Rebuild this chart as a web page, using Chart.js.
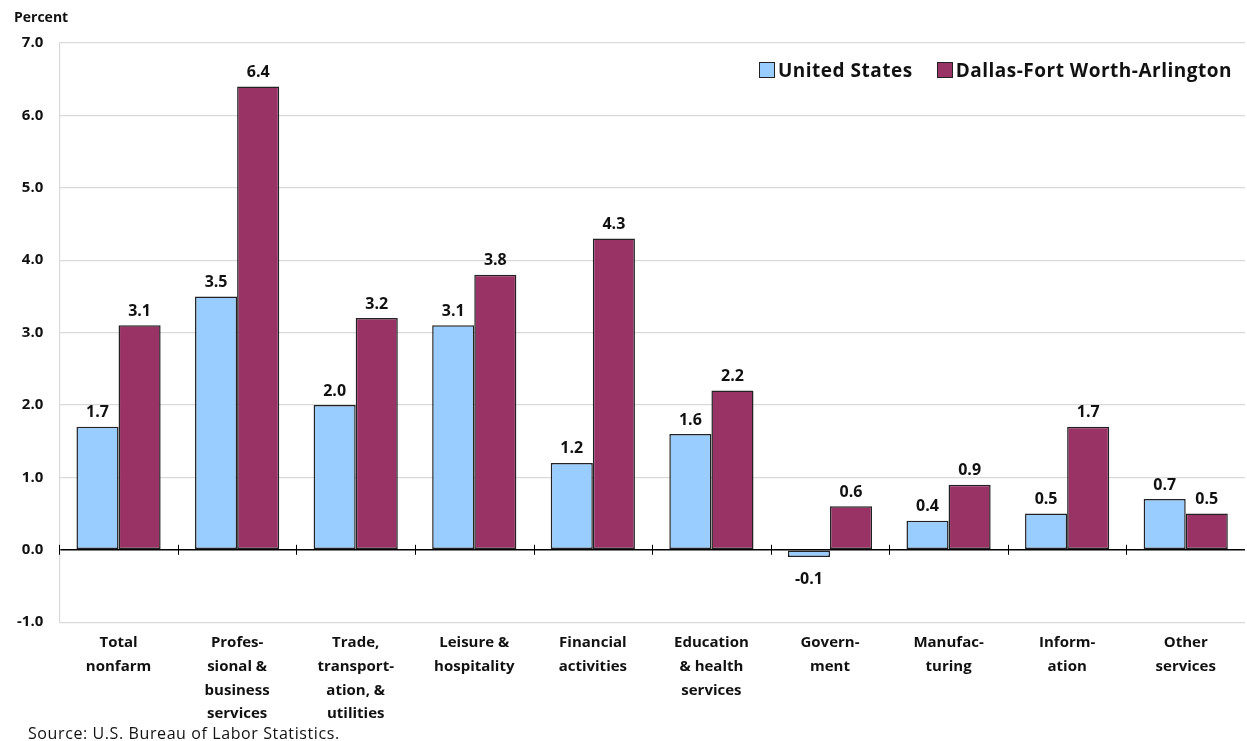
<!DOCTYPE html>
<html>
<head>
<meta charset="utf-8">
<script src="https://cdn.jsdelivr.net/npm/chart.js@4.4.1/dist/chart.umd.min.js"></script>
<style>
  body { margin: 0; background: #fff; }
  #wrap { position: relative; width: 1247px; height: 741px; }
  #legend {
    position: absolute; top: 57px; right: 15px;
    font: bold 19px "Open Sans", sans-serif; color: #111;
    display: flex; gap: 24px; letter-spacing: 0.5px;
  }
  #legend span.box {
    display: inline-block; width: 14px; height: 14px;
    border: 1.5px solid #222; margin-right: 3px; vertical-align: -1px;
  }
  #percent {
    position: absolute; left: 14px; top: 7px;
    font: bold 14px "Open Sans", sans-serif; color: #111;
  }
  #source {
    position: absolute; left: 28px; top: 722px;
    font: 16px "Open Sans", sans-serif; color: #111; letter-spacing: 0.6px;
  }
</style>
</head>
<body>
<div id="wrap">
  <canvas id="chart"></canvas>
  <div id="percent">Percent</div>
  <div id="legend">
    <div><span class="box" style="background:#99ccff"></span>United States</div>
    <div><span class="box" style="background:#993366"></span>Dallas-Fort Worth-Arlington</div>
  </div>
  <div id="source">Source: U.S. Bureau of Labor Statistics.</div>
</div>
<script>
const categories = [
  ["Total", "nonfarm"],
  ["Profes-", "sional &", "business", "services"],
  ["Trade,", "transport-", "ation, &", "utilities"],
  ["Leisure &", "hospitality"],
  ["Financial", "activities"],
  ["Education", "& health", "services"],
  ["Govern-", "ment"],
  ["Manufac-", "turing"],
  ["Inform-", "ation"],
  ["Other", "services"]
];
const usValues = [1.7, 3.5, 2.0, 3.1, 1.2, 1.6, -0.1, 0.4, 0.5, 0.7];
const dfwValues = [3.1, 6.4, 3.2, 3.8, 4.3, 2.2, 0.6, 0.9, 1.7, 0.5];
const seriesNames = ["United States", "Dallas-Fort Worth-Arlington"];

const FONT = '"Open Sans", sans-serif';

// value labels above (or below) each bar
const valueLabels = {
  id: "valueLabels",
  afterDatasetsDraw(chart) {
    const c = chart.ctx;
    c.save();
    c.font = "bold 16px " + FONT;
    c.fillStyle = "#111";
    c.textAlign = "center";
    chart.data.datasets.forEach((ds, i) => {
      chart.getDatasetMeta(i).data.forEach((bar, j) => {
        const v = ds.data[j];
        if (v >= 0) {
          c.textBaseline = "bottom";
          c.fillText(v.toFixed(1), bar.x, bar.y - 6);
        } else {
          c.textBaseline = "top";
          c.fillText(v.toFixed(1), bar.x, bar.y + 14);
        }
      });
    });
    c.restore();
  }
};

// small tick marks on the zero line between categories
const zeroTicks = {
  id: "zeroTicks",
  afterDatasetsDraw(chart) {
    const x = chart.scales.x, y = chart.scales.y;
    const y0 = y.getPixelForValue(0);
    const step = (x.right - x.left) / categories.length;
    const c = chart.ctx;
    c.save();
    c.strokeStyle = "#000";
    c.lineWidth = 1;
    for (let i = 0; i < categories.length; i++) {
      const px = Math.round(x.left + i * step) + 0.5;
      c.beginPath();
      c.moveTo(px, y0 - 5);
      c.lineTo(px, y0 + 5);
      c.stroke();
    }
    c.restore();
  }
};

new Chart(document.getElementById("chart"), {
  type: "bar",
  data: {
    labels: categories,
    datasets: [
      {
        label: seriesNames[0],
        data: usValues,
        backgroundColor: "#99ccff",
        borderColor: "#222",
        borderWidth: 1.5,
        borderSkipped: false
      },
      {
        label: seriesNames[1],
        data: dfwValues,
        backgroundColor: "#993366",
        borderColor: "#222",
        borderWidth: 1.5,
        borderSkipped: false
      }
    ]
  },
  options: {
    responsive: true,
    maintainAspectRatio: false,
    animation: false,
    layout: { padding: { left: 1, right: 2, top: 43, bottom: 14 } },
    datasets: { bar: { categoryPercentage: 0.71, barPercentage: 1.0 } },
    plugins: {
      legend: { display: false },
      tooltip: { enabled: false }
    },
    scales: {
      x: {
        grid: { display: false },
        border: { display: false },
        ticks: {
          color: "#111",
          font: { family: FONT, size: 15, weight: "bold", lineHeight: 1.58 },
          maxRotation: 0,
          autoSkip: false,
          padding: 1
        }
      },
      y: {
        min: -1,
        max: 7,
        ticks: {
          stepSize: 1,
          color: "#111",
          padding: 16,
          font: { family: FONT, size: 15, weight: "bold" },
          callback: v => v.toFixed(1)
        },
        grid: {
          drawTicks: false,
          color: ctx => (ctx.tick && ctx.tick.value === 0 ? "#000" : "#d9d9d9"),
          lineWidth: ctx => (ctx.tick && ctx.tick.value === 0 ? 1.5 : 1.2)
        },
        border: { color: "#d9d9d9", width: 1.2 }
      }
    }
  },
  plugins: [valueLabels, zeroTicks]
});
</script>
</body>
</html>
